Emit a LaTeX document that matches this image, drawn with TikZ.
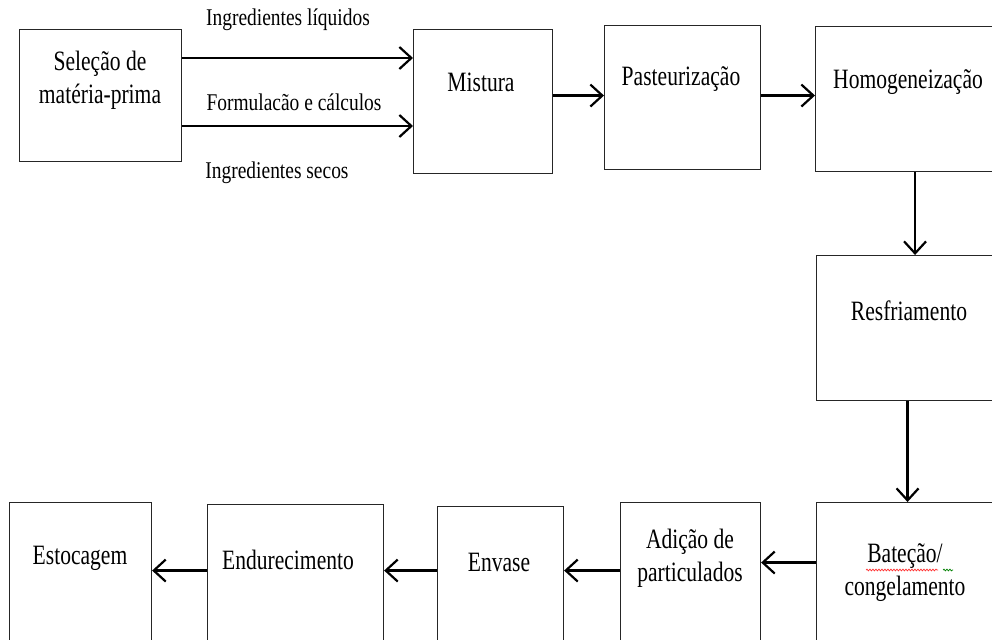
\documentclass[tikz,border=0pt]{standalone}
\usepackage{fontspec}
\setmainfont{Liberation Serif}
\newfontfamily\boxfont[FakeStretch=0.77]{Liberation Serif}
\newfontfamily\lblfont[FakeStretch=0.81]{Liberation Serif}
\usetikzlibrary{arrows.meta,decorations.pathmorphing}
\begin{document}
\begin{tikzpicture}[x=1bp,y=-1bp,
  boxtxt/.style={align=center,font=\boxfont\fontsize{28bp}{33bp}\selectfont,inner sep=0pt},
  lbl/.style={font=\lblfont\fontsize{24bp}{28bp}\selectfont,inner sep=0pt},
  arr/.style={line width=2.2bp,-{Straight Barb[length=12bp,width=22bp,line width=2.2bp]}}]
\clip (0,0) rectangle (992,640);
\fill[white] (0,0) rectangle (992,640);
\tikzset{bx/.style={draw=black!85,line width=1.1bp,inner sep=0pt,anchor=north west}}
% boxes
\node[bx,minimum width=162bp,minimum height=132bp] (Sel) at (19,29) {};
\node[bx,minimum width=139bp,minimum height=144bp] (Mis) at (413,29) {};
\node[bx,minimum width=156bp,minimum height=144bp] (Pas) at (604,25) {};
\node[bx,minimum width=195bp,minimum height=145bp] (Hom) at (815,26) {};
\node[bx,minimum width=194bp,minimum height=145bp] (Res) at (816,255) {};
\node[bx,minimum width=194bp,minimum height=158bp] (Bat) at (816,502) {};
\node[bx,minimum width=140bp,minimum height=158bp] (Adi) at (620,502) {};
\node[bx,minimum width=126bp,minimum height=154bp] (Env) at (437,506) {};
\node[bx,minimum width=176bp,minimum height=156bp] (End) at (207,504) {};
\node[bx,minimum width=142bp,minimum height=158bp] (Est) at (9,502) {};
% box texts
\node[boxtxt] (tSel) at (100,80) {Seleção de\\matéria-prima};
\node[boxtxt] (tMis) at (481,82) {Mistura};
\node[boxtxt] (tPas) at (681,79) {Pasteurização};
\node[boxtxt] (tHom) at (908,82) {Homogeneização};
\node[boxtxt] (tRes) at (909,311) {Resfriamento};
\node[boxtxt] (tBat) at (905,573) {Bateção/\\congelamento};
\node[boxtxt] (tAdi) at (690,558) {Adição de\\particulados};
\node[boxtxt] (tEnv) at (499,562) {Envase};
\node[boxtxt] (tEnd) at (288,560) {Endurecimento};
\node[boxtxt] (tEst) at (80,558) {Estocagem};
% labels
\node[lbl] (l1) at (288,20) {Ingredientes líquidos};
\node[lbl] (l2) at (294,102) {Formulacão e cálculos};
\node[lbl] (l3) at (277,173) {Ingredientes secos};
% spell-check squiggles
\draw[red!80,line width=0.7bp,decorate,decoration={snake,amplitude=0.9bp,segment length=3bp}] (866,570) -- (938,570);
\draw[green!50!black,line width=0.7bp,decorate,decoration={snake,amplitude=0.9bp,segment length=3bp}] (943,570) -- (953,570);
% arrows
\draw[arr] ([yshift=-29bp]Sel.north east) -- ([yshift=-29bp]Mis.north west);
\draw[arr] ([yshift=-97bp]Sel.north east) -- ([yshift=-97bp]Mis.north west);
\draw[arr] ([yshift=2bp]Mis.east |- Pas.west) -- ([yshift=2bp]Pas.west);
\draw[arr] ([yshift=2bp]Pas.east) -- ([yshift=2bp]Pas.east -| Hom.west);
\draw[arr] ([xshift=2bp]Hom.south) -- ([xshift=2bp]Hom.south |- Res.north);
\draw[arr] ([xshift=-6bp]Res.south) -- ([xshift=-6bp]Res.south |- Bat.north);
\draw[arr] ([yshift=19bp]Bat.west) -- ([yshift=19bp]Bat.west -| Adi.east);
\draw[arr] ([yshift=11bp]Adi.west) -- ([yshift=11bp]Adi.west -| Env.east);
\draw[arr] ([yshift=13bp]Env.west) -- ([yshift=13bp]Env.west -| End.east);
\draw[arr] ([yshift=12bp]End.west) -- ([yshift=12bp]End.west -| Est.east);
\end{tikzpicture}
\end{document}
